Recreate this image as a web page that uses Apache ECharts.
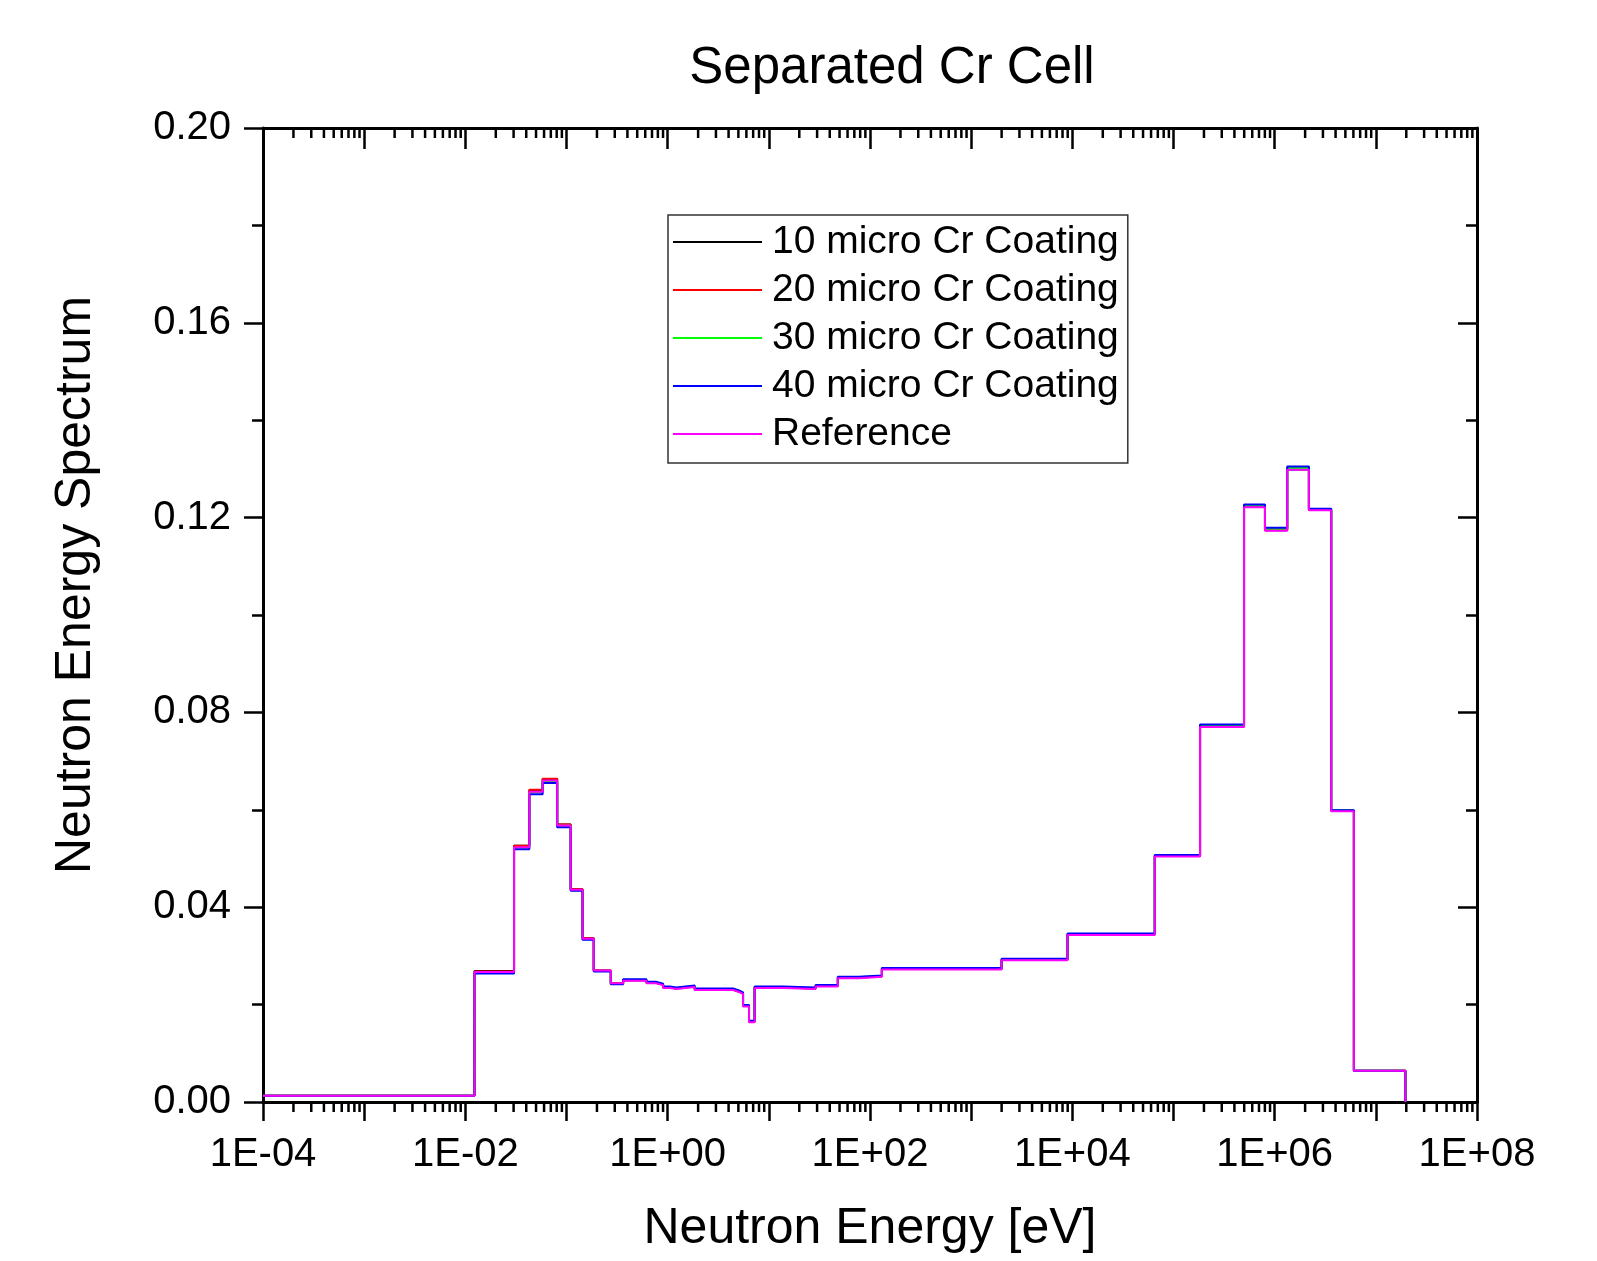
<!DOCTYPE html>
<html>
<head>
<meta charset="utf-8">
<script src="https://cdn.jsdelivr.net/npm/echarts@6/dist/echarts.min.js"></script>
<style>
    html, body { margin: 0; padding: 0; background: #fff; }
    #chart { width: 1597px; height: 1261px; }
</style>
</head>
<body>
<div id="chart"></div>

<script>
    // bin lower edges in eV (last entry = upper edge of the last bin)
    var energy = [1e-4, 0.0123, 0.0303, 0.0429, 0.0581, 0.0809, 0.110, 0.144, 0.186, 0.274,
        0.363, 0.617, 0.764, 0.902, 1.05, 1.22, 1.85, 4.43, 5.07, 5.56, 6.37, 7.24, 13.8, 29.0,
        48.1, 77.4, 131, 2000, 8970, 65300, 183000, 498000, 802000, 1.33e6, 2.18e6, 3.62e6,
        6.07e6, 1.96e7];

    var cr10 = [0.0013, 0.0269, 0.0526, 0.0640, 0.0663, 0.0570, 0.0437, 0.0336, 0.0270, 0.0244,
        0.0250, 0.0245, 0.0241, 0.0235, 0.0233, 0.0237, 0.0231, 0.0227, 0.0223, 0.0197, 0.0165,
        0.0235, 0.0233, 0.0238, 0.0255, 0.0258, 0.0273, 0.0292, 0.0344,
        0.0505, 0.0771, 0.1222, 0.1174, 0.1299, 0.1216, 0.0598, 0.0064, 0];
    var cr20 = [0.0013, 0.0268, 0.0526, 0.0641, 0.0664, 0.0570, 0.0437, 0.0336, 0.0270, 0.0244,
        0.0250, 0.0245, 0.0241, 0.0235, 0.0233, 0.0237, 0.0231, 0.0227, 0.0223, 0.0197, 0.0165,
        0.0235, 0.0233, 0.0238, 0.0255, 0.0258, 0.0273, 0.0292, 0.0344,
        0.0505, 0.0772, 0.1223, 0.1175, 0.1300, 0.1216, 0.0598, 0.0064, 0];
    var cr30 = [0.0013, 0.0266, 0.0522, 0.0636, 0.0659, 0.0567, 0.0435, 0.0334, 0.0269, 0.0243,
        0.0251, 0.0246, 0.0242, 0.0236, 0.0234, 0.0238, 0.0232, 0.0228, 0.0224, 0.0198, 0.0166,
        0.0236, 0.0234, 0.0239, 0.0256, 0.0259, 0.0274, 0.0293, 0.0345,
        0.0506, 0.0773, 0.1225, 0.1177, 0.1302, 0.1217, 0.0599, 0.0064, 0];
    var cr40 = [0.0013, 0.0264, 0.0519, 0.0632, 0.0655, 0.0564, 0.0434, 0.0333, 0.0268, 0.0242,
        0.0252, 0.0247, 0.0243, 0.0237, 0.0235, 0.0239, 0.0233, 0.0229, 0.0225, 0.0199, 0.0167,
        0.0237, 0.0235, 0.0240, 0.0257, 0.0260, 0.0275, 0.0294, 0.0346,
        0.0507, 0.0775, 0.1227, 0.1179, 0.1305, 0.1218, 0.0599, 0.0064, 0];
    var reference = [0.0013, 0.0267, 0.0523, 0.0637, 0.0660, 0.0568, 0.0436, 0.0335, 0.0270, 0.0244,
        0.0249, 0.0244, 0.0240, 0.0234, 0.0232, 0.0236, 0.0230, 0.0226, 0.0222, 0.0196, 0.0164,
        0.0234, 0.0232, 0.0237, 0.0254, 0.0257, 0.0272, 0.0291, 0.0343,
        0.0504, 0.0770, 0.1221, 0.1173, 0.1298, 0.1215, 0.0597, 0.0064, 0];

    var seriesNames = ['10 micro Cr Coating', '20 micro Cr Coating', '30 micro Cr Coating',
        '40 micro Cr Coating', 'Reference'];
    var seriesColors = ['#000000', '#ff0000', '#00ff00', '#0000ff', '#ff00ff'];

    // x axis runs in decades (log10 of energy)
    var xTickExps = [-4, -2, 0, 2, 4, 6, 8];
    var xTickLabels = ['1E-04', '1E-02', '1E+00', '1E+02', '1E+04', '1E+06', '1E+08'];
    var yTickLabels = ['0.00', '0.04', '0.08', '0.12', '0.16', '0.20'];

    var FONT = 'Liberation Sans, Arial, sans-serif';

    function log10(v) { return Math.log(v) / Math.LN10; }

    // minor ticks 2..9 in every decade
    var minorX = [];
    for (var d = -4; d < 8; d++) {
        for (var m = 2; m <= 9; m++) {
            minorX.push([d + log10(m), 0]);
        }
    }

    function pairs(vals) {
        var out = [];
        for (var i = 0; i < energy.length; i++) {
            out.push([log10(energy[i]), vals[i]]);
        }
        return out;
    }

    var allData = [cr10, cr20, cr30, cr40, reference];
    var series = [];
    for (var k = 0; k < allData.length; k++) {
        series.push({
            name: seriesNames[k],
            type: 'line',
            step: 'end',
            symbol: 'none',
            showSymbol: false,
            data: pairs(allData[k]),
            lineStyle: {color: seriesColors[k], width: 2},
            itemStyle: {color: seriesColors[k]},
            animation: false
        });
    }
    series.push({
        type: 'custom',
        silent: true,
        animation: false,
        data: minorX,
        encode: {x: 0, y: 1},
        renderItem: function (params, api) {
            var x = api.value(0);
            var b = api.coord([x, 0]);
            var t = api.coord([x, 0.2]);
            return {
                type: 'group',
                children: [
                    {type: 'line', shape: {x1: b[0], y1: b[1], x2: b[0], y2: b[1] + 10}, style: {stroke: '#000', lineWidth: 2.5}},
                    {type: 'line', shape: {x1: t[0], y1: t[1], x2: t[0], y2: t[1] + 10}, style: {stroke: '#000', lineWidth: 2.5}}
                ]
            };
        }
    });

    var axisLine = {show: true, onZero: false, lineStyle: {color: '#000', width: 3}};
    var tickStyle = {color: '#000', width: 2.5};

    var myChart = echarts.init(document.getElementById('chart'));
    myChart.setOption({
        backgroundColor: '#fff',
        animation: false,
        title: {
            text: 'Separated Cr Cell',
            left: 892,
            textAlign: 'center',
            top: 43,
            padding: 0,
            textStyle: {fontFamily: FONT, fontSize: 51, fontWeight: 'normal', color: '#000'}
        },
        legend: {
            data: seriesNames,
            orient: 'vertical',
            left: 668,
            top: 215,
            padding: [5, 9, 7, 4],
            borderColor: '#333',
            borderWidth: 1.5,
            itemWidth: 89,
            itemHeight: 14,
            itemGap: 4,
            itemStyle: {opacity: 0},
            textStyle: {fontFamily: FONT, fontSize: 39, lineHeight: 44, color: '#000', padding: [0, 0, 0, 5]}
        },
        grid: {left: 263, right: 120, top: 128, bottom: 159},
        xAxis: [{
            type: 'value',
            min: -4,
            max: 8,
            interval: 1,
            name: 'Neutron Energy [eV]',
            nameLocation: 'middle',
            nameGap: 102,
            nameTextStyle: {fontFamily: FONT, fontSize: 50, color: '#000'},
            axisLine: axisLine,
            axisTick: {show: true, length: 19, lineStyle: tickStyle},
            splitLine: {show: false},
            axisLabel: {
                interval: 0,
                margin: 33,
                fontFamily: FONT, fontSize: 40, color: '#000',
                formatter: function (v) {
                    var i = xTickExps.indexOf(Math.round(v));
                    return i >= 0 ? xTickLabels[i] : '';
                }
            }
        }, {
            type: 'value',
            min: -4,
            max: 8,
            interval: 1,
            position: 'top',
            axisLine: axisLine,
            axisTick: {show: true, inside: true, length: 21, lineStyle: tickStyle},
            axisLabel: {show: false},
            splitLine: {show: false}
        }],
        yAxis: [{
            type: 'value',
            min: 0,
            max: 0.2,
            interval: 0.04,
            name: 'Neutron Energy Spectrum',
            nameLocation: 'middle',
            nameGap: 162,
            nameTextStyle: {fontFamily: FONT, fontSize: 50, color: '#000', padding: [0, 0, 0, 60]},
            axisLine: axisLine,
            axisTick: {show: true, length: 19, lineStyle: tickStyle},
            minorTick: {show: true, splitNumber: 2, length: 11, lineStyle: tickStyle},
            splitLine: {show: false},
            axisLabel: {
                margin: 32,
                fontFamily: FONT, fontSize: 40, color: '#000',
                formatter: function (v) {
                    return yTickLabels[Math.round(v / 0.04)];
                }
            }
        }, {
            type: 'value',
            min: 0,
            max: 0.2,
            interval: 0.04,
            position: 'right',
            axisLine: axisLine,
            axisTick: {show: true, inside: true, length: 19, lineStyle: tickStyle},
            minorTick: {show: true, splitNumber: 2, length: 11, lineStyle: tickStyle},
            axisLabel: {show: false},
            splitLine: {show: false}
        }],
        series: series
    });
</script>
</body>
</html>
